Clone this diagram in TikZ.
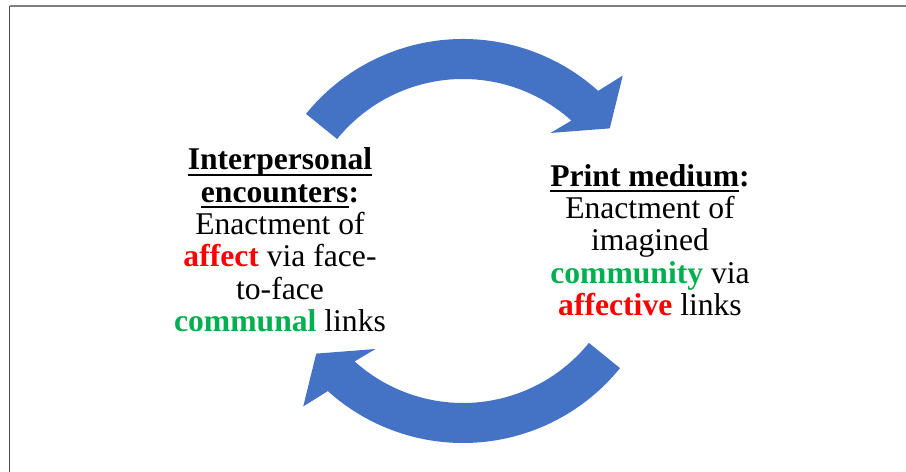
\documentclass[tikz,border=0pt]{standalone}
\usepackage{fontspec}
\setmainfont{Liberation Serif}
\usepackage{tikz}

\definecolor{cycblue}{HTML}{4472C4}
\definecolor{hotred}{HTML}{FF0000}
\definecolor{leafgreen}{HTML}{00B050}

% bold underlined heading word
\newcommand{\undl}[1]{\setbox0\hbox{#1}\rlap{\rule[-3.2pt]{\wd0}{1.1pt}}\box0}

\begin{document}
\begin{tikzpicture}[x=0.02cm,y=0.02cm]

      \tikzstyle{textblock}=[align=center,inner sep=0pt,
        font=\fontsize{18}{18.4}\selectfont]
      \tikzstyle{cyclearrow}=[fill=cycblue,draw=none]

      \useasboundingbox (0,0) rectangle (906,472);
      \fill[white] (0,0) rectangle (906,472);

      % frame
      \draw[line width=0.6pt,gray] (9.5,466) -- (906,466);
      \draw[line width=0.9pt,black!70] (9.5,466) -- (9.5,0);

      \coordinate(HUB) at (463,231);

      \node(INTER)[textblock] at (280,232)
        {\textbf{\undl{Interpersonal}}\\
         \textbf{\undl{encounters}:}\\
         Enactment of\\
         \textbf{\textcolor{hotred}{affect}} via face-\\
         to-face\\
         \textbf{\textcolor{leafgreen}{communal}} links};
      \node(PRINT)[textblock] at (650,232)
        {\textbf{\undl{Print medium}:}\\
         Enactment of\\
         imagined\\
         \textbf{\textcolor{leafgreen}{community}} via\\
         \textbf{\textcolor{hotred}{affective}} links};

      \begin{scope}[shift={(HUB)}]
        % from INTER over the top to PRINT
        \fill[cyclearrow] (141:202)
          arc[start angle=141,end angle=48,radius=202]
          -- (46:230) -- (37.5:185) -- (51:139) -- (48:162)
          arc[start angle=48,end angle=141,radius=162] -- cycle;
        % from PRINT under the bottom back to INTER
        \fill[cyclearrow] (321:202)
          arc[start angle=321,end angle=228,radius=202]
          -- (226:230) -- (217.5:185) -- (231:139) -- (228:162)
          arc[start angle=228,end angle=321,radius=162] -- cycle;
      \end{scope}

    \end{tikzpicture}
\end{document}
